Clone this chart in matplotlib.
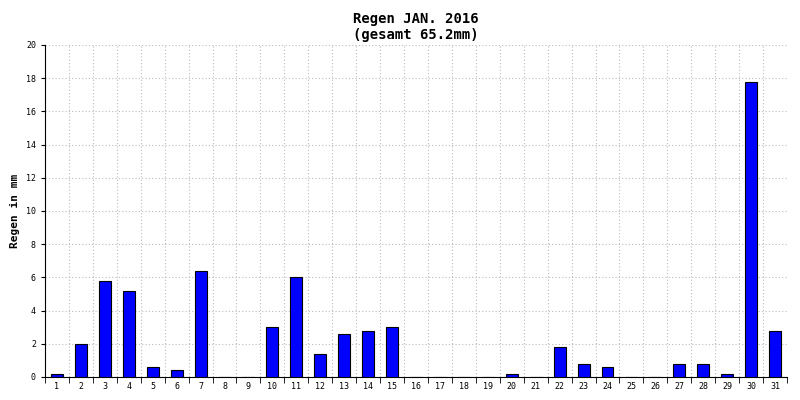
import matplotlib.pyplot as plt
import numpy as np

days = list(range(1, 32))
rain = [0.2, 2.0, 5.8, 5.2, 0.6, 0.4, 6.4, 0, 0, 3.0, 6.0, 1.4, 2.6, 2.8, 3.0,
        0, 0, 0, 0, 0.2, 0, 1.8, 0.8, 0.6, 0, 0, 0.8, 0.8, 0.2, 17.8, 2.8]

plt.rcParams['font.family'] = 'DejaVu Sans Mono'
fig = plt.figure(figsize=(8, 4), dpi=100)
ax = fig.add_axes([45/800, 23/400, 742/800, 332/400])

x = np.arange(len(days))
ax.bar(x, rain, width=0.5, color='#0000ff', edgecolor='black', linewidth=0.8, zorder=3)
ax.set_xlim(-0.5, len(days) - 0.5)
ax.set_ylim(0, 20)
ax.set_yticks(range(0, 21, 2))
ax.set_xticks(x)
ax.set_xticklabels(days)
ax.set_xticks(np.arange(-0.5, len(days), 1), minor=True)
ax.tick_params(axis='both', labelsize=6, length=3)
ax.tick_params(axis='x', which='major', length=0)
ax.tick_params(axis='x', which='minor', length=4)
ax.grid(axis='y', color='#bbbbbb', linestyle=(0, (1, 2)), linewidth=0.8, zorder=0)
ax.grid(axis='x', which='minor', color='#bbbbbb', linestyle=(0, (1, 2)), linewidth=0.8, zorder=0)
for s in ['top', 'right']:
    ax.spines[s].set_visible(False)
ax.set_ylabel('Regen in mm', fontsize=8, fontweight='bold')
ax.set_title('Regen JAN. 2016\n(gesamt 65.2mm)', fontsize=10, fontweight='bold', pad=4)

fig.savefig('out.png')
